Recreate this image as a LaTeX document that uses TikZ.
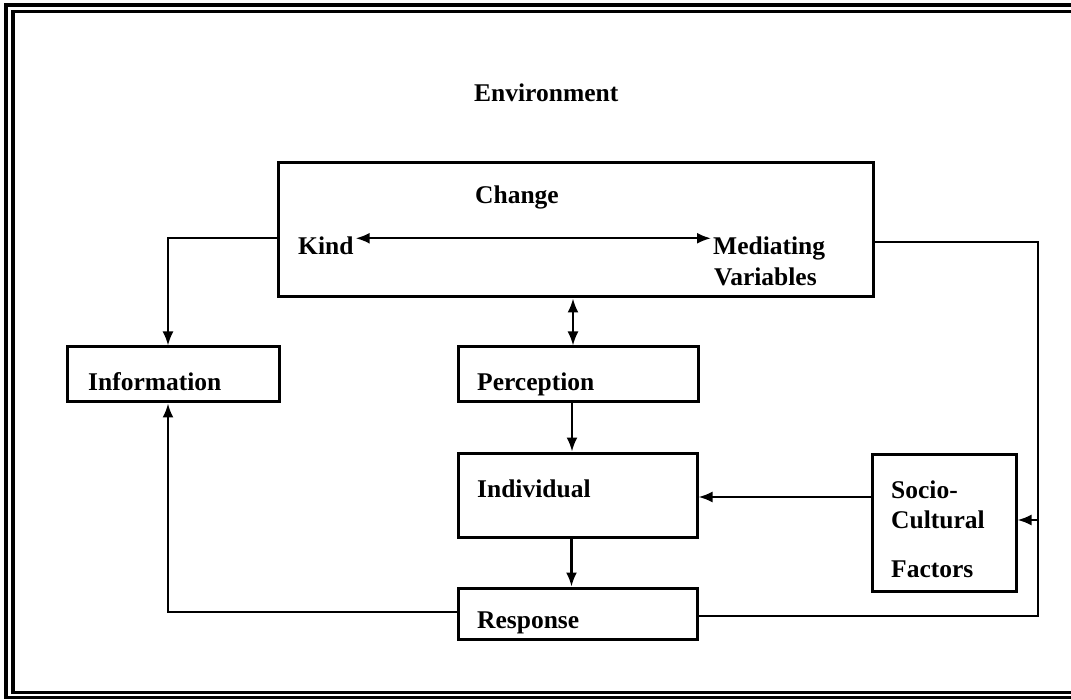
\documentclass[tikz,border=0pt]{standalone}
\usepackage{fontspec}
\setmainfont{Liberation Serif}
\usetikzlibrary{arrows.meta}
\begin{document}
\begin{tikzpicture}[x=1pt,y=-1pt,
  box/.style={draw, line width=3pt, inner sep=0pt},
  txt/.style={anchor=base west, inner sep=0pt, font=\fontsize{25.5}{30}\selectfont\bfseries},
  conn/.style={line width=2.2pt},
  arr/.style={conn, -{Latex[length=14pt,width=11pt]}},
  dbl/.style={conn, {Latex[length=14pt,width=11pt]}-{Latex[length=14pt,width=11pt]}},
  frame/.style={line width=3.2pt}]
\useasboundingbox (0,0) rectangle (1071,700);
\clip (0,0) rectangle (1071,700);
\fill[white] (0,0) rectangle (1071,700);
% double frame
\draw[frame] (6,5) rectangle (1100,697.5);
\draw[frame] (13,11.5) rectangle (1090,692.5);
% boxes
\node[box, minimum width=595pt, minimum height=134pt] (change) at (575.5,230) {};
\node[box, minimum width=212pt, minimum height=55pt] (info) at (173,374.5) {};
\node[box, minimum width=240pt, minimum height=55pt] (perc) at (578,374.5) {};
\node[box, minimum width=239pt, minimum height=84pt] (indiv) at (577.5,495) {};
\node[box, minimum width=239pt, minimum height=51pt] (resp) at (577.5,613.5) {};
\node[box, minimum width=144pt, minimum height=137pt] (socio) at (944,522.5) {};
% texts
\node[txt] (env) at (474,102) {Environment};
\node[txt] (chg) at (475,204) {Change};
\node[txt] (kind) at (298,255) {Kind};
\node[txt] (med) at (713,255) {Mediating};
\node[txt] (var) at (714,286) {Variables};
\node[txt] (infot) at (88,391) {Information};
\node[txt] (perct) at (477,391) {Perception};
\node[txt] (indivt) at (477,497) {Individual};
\node[txt] (respt) at (477,628) {Response};
\node[txt] (soc1) at (891,498) {Socio-};
\node[txt] (soc2) at (891,528) {Cultural};
\node[txt] (soc3) at (891,577) {Factors};
% coordinates of the right loop
\coordinate (rtop) at (1038,242);
\coordinate (rbot) at (1038,616);
% connectors
\draw[dbl] ([xshift=2pt,yshift=8pt]kind.east) -- ([xshift=-2pt,yshift=8pt]kind.east -| med.west);
\draw[arr] ([yshift=-8pt]change.west) -| ([xshift=-5pt]info.north);
\draw[dbl] ([xshift=-5pt]perc.north |- change.south) -- ([xshift=-5pt]perc.north);
\draw[arr] ([xshift=-6pt]perc.south) -- ([xshift=-6pt]perc.south |- indiv.north);
\draw[arr] ([xshift=-6pt]indiv.south) -- ([xshift=-6pt]indiv.south |- resp.north);
\draw[arr] ([yshift=-2pt]socio.west |- indiv.east) -- ([yshift=-2pt]indiv.east);
\draw[conn] (rtop -| change.east) -- (rtop) -- (rbot) -- (rbot -| resp.east);
\draw[arr] ([yshift=2.5pt]socio.east -| rtop) -- ([yshift=2.5pt]socio.east);
\draw[arr] ([yshift=1.5pt]resp.west) -| ([xshift=-5pt]info.south);
\end{tikzpicture}
\end{document}
